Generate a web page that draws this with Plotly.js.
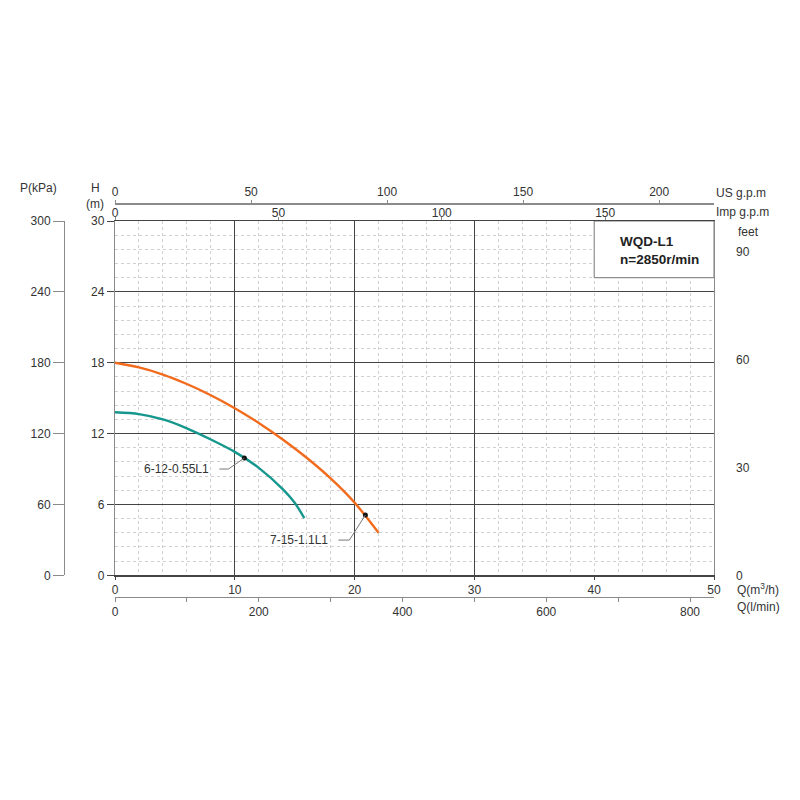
<!DOCTYPE html>
<html>
<head>
<meta charset="utf-8">
<script src="https://cdn.plot.ly/plotly-3.0.1.min.js"></script>
<style>html,body{margin:0;padding:0;background:#fff}#plot{width:800px;height:800px}</style>
</head>
<body>
<div id="plot"></div>
<script>
// pump curves, H (m) against Q (m3/h)
const q7 = [0, 2, 4, 6, 8, 10, 12, 14, 16, 18, 20, 22];
const h7 = [18.0, 17.6, 17.0, 16.2, 15.25, 14.15, 12.9, 11.5, 9.95, 8.2, 6.15, 3.6];
const q6 = [0, 2, 4, 6, 8, 10, 12, 14, 15, 15.8];
const h6 = [13.8, 13.65, 13.2, 12.45, 11.5, 10.45, 9.1, 7.3, 6.15, 4.85];

// duty points and their labels
const dutyNames = ['6-12-0.55L1', '7-15-1.1L1'];
const dutyQ = [10.8, 20.9];
const dutyH = [9.93, 5.1];

// ticks
const hTicks = [0, 6, 12, 18, 24, 30];
const pTicks = [0, 60, 120, 180, 240, 300];
const feetTicks = [0, 30, 60, 90];
const qTicks = [0, 10, 20, 30, 40, 50];
const lminTicks = [0, 200, 400, 600, 800];
const usTicks = [0, 50, 100, 150, 200];
const impTicks = [0, 50, 100, 150];
const majorQ = [10, 20, 30];

const Q_MAX = 50, H_MAX = 30;
const TXT = '#333';
const DARK = '#444';
const GREY = '#8a8a8a';
const DOT = '#d0d0d0';
const FONT = { family: 'Liberation Sans, Arial, sans-serif', size: 12, color: TXT };

const px = v => v / 800;          // paper x from pixel
const py = v => (800 - v) / 800;  // paper y from pixel

// leader line offsets (pixels from the duty point) and label shifts
const leaders = [
    { path: 'M0,0 L-16,-11 L-25,-11', xshift: -33, yshift: -11 },
    { path: 'M0,0 L-16,-25 L-27,-25', xshift: -35, yshift: -25 }
];

const traces = [
    {
        x: q6, y: h6, type: 'scatter', mode: 'lines',
        line: { color: '#16978d', width: 2.4, shape: 'spline', smoothing: 0.8 },
        hoverinfo: 'none'
    },
    {
        x: q7, y: h7, type: 'scatter', mode: 'lines',
        line: { color: '#f26b1d', width: 2.4, shape: 'spline', smoothing: 0.8 },
        hoverinfo: 'none'
    },
    {
        x: dutyQ, y: dutyH, type: 'scatter', mode: 'markers',
        marker: { color: '#111', size: 5 },
        hoverinfo: 'none'
    }
];

// model box
const shapes = [{
    type: 'rect', xref: 'x', yref: 'y', x0: 40, x1: Q_MAX, y0: 25.2, y1: H_MAX,
    line: { color: '#777', width: 1 }, fillcolor: '#fff', layer: 'above'
}];

dutyQ.forEach((q, i) => {
    shapes.push({
        type: 'path', xref: 'x', yref: 'y', xsizemode: 'pixel', ysizemode: 'pixel',
        xanchor: q, yanchor: dutyH[i], path: leaders[i].path,
        line: { color: '#777', width: 1 }
    });
});

const annotations = dutyNames.map((name, i) => ({
    x: dutyQ[i], y: dutyH[i], xref: 'x', yref: 'y', text: name, showarrow: false,
    xanchor: 'right', yanchor: 'middle', xshift: leaders[i].xshift, yshift: leaders[i].yshift,
    font: FONT
}));

const sideText = (text, x, y, xanchor) => ({
    text, x: px(x), y: py(y), xref: 'paper', yref: 'paper',
    xanchor: xanchor || 'left', yanchor: 'middle', showarrow: false, font: FONT
});

annotations.push(
    sideText('P(kPa)', 38, 188, 'center'),
    sideText('H', 95, 188, 'center'),
    sideText('(m)', 95, 204, 'center'),
    sideText('US g.p.m', 714, 193),
    sideText('Imp g.p.m', 714, 212),
    sideText('feet', 736, 232),
    sideText('Q(m<sup>3</sup>/h)', 735, 589),
    sideText('Q(l/min)', 735, 607),
    {
        text: '<b>WQD-L1</b><br><b>n=2850r/min</b>', x: px(618), y: py(251),
        xref: 'paper', yref: 'paper', xanchor: 'left', yanchor: 'middle', align: 'left',
        showarrow: false, font: { family: FONT.family, size: 13.5, color: '#222' }
    }
);

const dom = { x: [px(115), px(714)], y: [py(575.3), py(221)] };

const layout = {
    width: 800, height: 800,
    margin: { l: 0, r: 0, t: 0, b: 0 },
    paper_bgcolor: '#fff', plot_bgcolor: '#fff',
    font: FONT,
    showlegend: false,
    hovermode: false,
    xaxis: {
        domain: dom.x, range: [0, Q_MAX], tickvals: qTicks,
        showline: true, linecolor: DARK, linewidth: 1.2, mirror: true,
        ticks: 'outside', ticklen: 3, tickcolor: DARK,
        showgrid: true, gridcolor: DOT, griddash: 'dot', gridwidth: 1,
        minor: { dtick: 2, showgrid: true, gridcolor: DOT, griddash: 'dot', gridwidth: 1 },
        zeroline: false, fixedrange: true
    },
    yaxis: {
        domain: dom.y, range: [0, H_MAX], tickvals: hTicks,
        showline: true, linecolor: GREY, linewidth: 1.2, mirror: true,
        ticks: 'outside', ticklen: 7, tickcolor: DARK,
        showgrid: true, gridcolor: DARK, gridwidth: 1.2,
        minor: { dtick: 1.2, showgrid: true, gridcolor: DOT, griddash: 'dot', gridwidth: 1 },
        zeroline: false, fixedrange: true
    },
    // pressure (kPa), separate scale on the far left
    yaxis2: {
        overlaying: 'y', anchor: 'free', position: px(64), side: 'left',
        range: [0, H_MAX * 10], tickvals: pTicks,
        showline: true, linecolor: GREY, linewidth: 1.2,
        ticks: 'outside', ticklen: 11, tickcolor: GREY,
        showgrid: false, zeroline: false, fixedrange: true
    },
    // feet on the right
    yaxis3: {
        overlaying: 'y', anchor: 'x', side: 'right',
        range: [0, H_MAX / 0.3048], tickvals: feetTicks,
        showline: false, ticks: '', ticklabelstandoff: 21,
        showgrid: false, zeroline: false, fixedrange: true
    },
    // US g.p.m along the top
    xaxis2: {
        overlaying: 'x', anchor: 'free', position: py(203.3), side: 'top',
        range: [0, Q_MAX * 4.40287], tickvals: usTicks,
        showline: true, linecolor: GREY, linewidth: 1.2,
        ticks: 'outside', ticklen: 3, tickcolor: GREY,
        showgrid: false, zeroline: false, fixedrange: true
    },
    // Imp g.p.m on the frame top
    xaxis3: {
        overlaying: 'x', anchor: 'y', side: 'top',
        range: [0, Q_MAX * 3.66615], tickvals: impTicks,
        showline: false, ticks: 'outside', ticklen: 3, tickcolor: GREY,
        ticklabelstandoff: -5,
        showgrid: false, zeroline: false, fixedrange: true
    },
    // l/min along the bottom
    xaxis4: {
        overlaying: 'x', anchor: 'free', position: py(596.7), side: 'bottom',
        range: [0, Q_MAX * 1000 / 60], tickvals: lminTicks,
        showline: true, linecolor: GREY, linewidth: 1.2,
        ticks: 'outside', ticklen: 4, tickcolor: GREY,
        minor: { dtick: 100, ticks: 'outside', ticklen: 4, tickcolor: GREY },
        showgrid: false, zeroline: false, fixedrange: true
    },
    // solid verticals at 10, 20, 30 only
    xaxis5: {
        overlaying: 'x', anchor: 'y', side: 'bottom',
        range: [0, Q_MAX], tickvals: majorQ,
        showticklabels: false, ticks: '', showline: false,
        showgrid: true, gridcolor: DARK, gridwidth: 1.2,
        zeroline: false, fixedrange: true
    },
    shapes,
    annotations
};

// empty traces so the extra axes get drawn
const axisTraces = [
    { xaxis: 'x', yaxis: 'y2' },
    { xaxis: 'x', yaxis: 'y3' },
    { xaxis: 'x2', yaxis: 'y' },
    { xaxis: 'x3', yaxis: 'y' },
    { xaxis: 'x4', yaxis: 'y' },
    { xaxis: 'x5', yaxis: 'y' }
].map(a => Object.assign({ x: [], y: [], type: 'scatter', mode: 'lines', hoverinfo: 'none' }, a));

Plotly.newPlot('plot', axisTraces.concat(traces), layout, { displayModeBar: false, staticPlot: true });
</script>
</body>
</html>
